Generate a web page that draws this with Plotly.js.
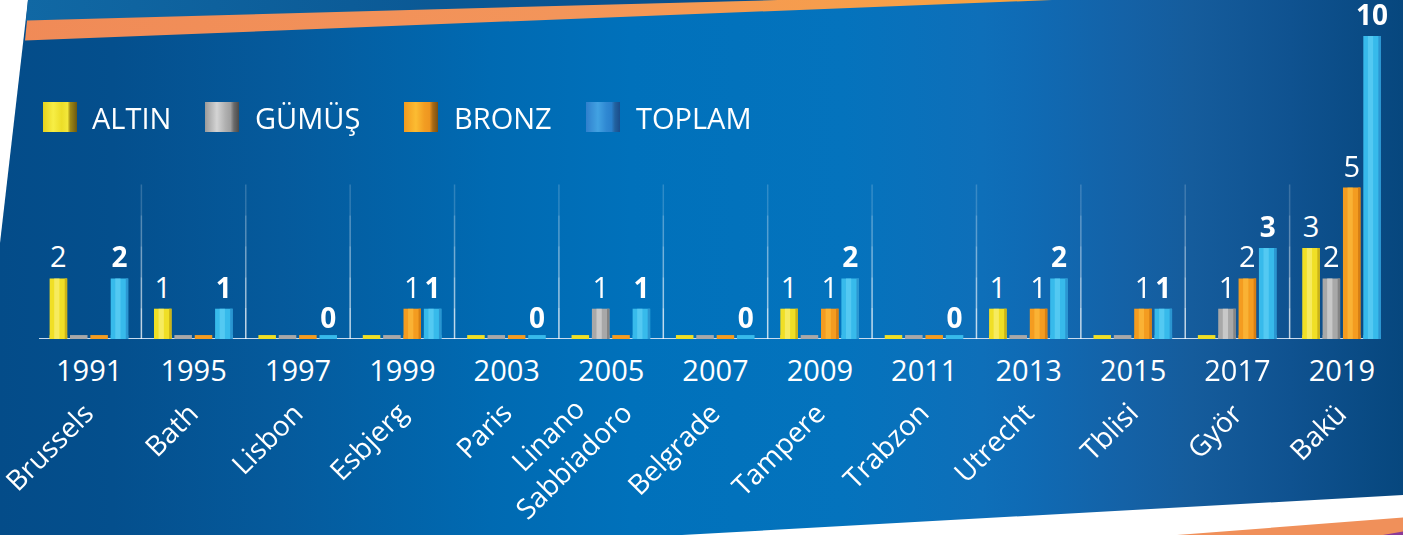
<!DOCTYPE html>
<html><head><meta charset="utf-8">
<script src="https://cdn.plot.ly/plotly-3.0.1.min.js"></script>
<style>
html,body{margin:0;padding:0;background:#fff;width:1403px;height:535px;overflow:hidden}
.layer{position:absolute;left:0;top:0;width:1403px;height:535px;}
#bgMain{background:linear-gradient(90deg,#044c89 0%,#044f8d 8%,#055a9c 20%,#006ab2 35%,#0071bb 45%,#0473bd 60%,#0e6fb9 70%,#0f6bb5 73%,#1462a7 80%,#155c9c 85%,#0f5290 92%,#07477e 100%);
 clip-path:polygon(28px 0,1403px 0,1403px 495px,682px 535px,0 535px,0 243px);}
#bgTop{background:linear-gradient(90deg,#1169a5 0%,#0c5c98 25%,#084f8c 50%,#0a4f8c 100%);
 clip-path:polygon(28px 0,790px 0,26px 21px);}
#stripeTop{background:linear-gradient(90deg,#f08a57 0%,#f3955a 40%,#f7a048 65%,#faa535 80%,#fba630 100%);
 clip-path:polygon(27px 20.5px,778px 0,1052px 0,25px 40.5px);}
#stripeBottom{background:#f0905a;clip-path:polygon(1177px 535px,1403px 517.5px,1403px 535px);}
#stripePurple{background:#8b3a98;clip-path:polygon(1383px 535px,1403px 531.5px,1403px 535px);}
#chart{position:absolute;left:0;top:0;width:1403px;height:535px;}
</style></head>
<body>
<div id="bgMain" class="layer"></div>
<div id="bgTop" class="layer"></div>
<div id="stripeTop" class="layer"></div>
<div id="stripeBottom" class="layer"></div>
<div id="stripePurple" class="layer"></div>
<div id="chart"></div>
<script>
// ---------- DATA ----------
const years  = ['1991','1995','1997','1999','2003','2005','2007','2009','2011','2013','2015','2017','2019'];
const cities = ['Brussels','Bath','Lisbon','Esbjerg','Paris','Linano<br>Sabbiadoro','Belgrade','Tampere','Trabzon','Utrecht','Tblisi','Györ','Bakü'];
const altin  = [2,1,0,0,0,0,0,1,0,1,0,0,3];
const gumus  = [0,0,0,0,0,1,0,0,0,0,0,1,2];
const bronz  = [0,0,0,1,0,0,0,1,0,1,1,2,5];
const toplam = [2,1,0,1,0,1,0,2,0,2,1,3,10];
const seriesNames = ['ALTIN','GÜMÜŞ','BRONZ','TOPLAM'];

// ---------- STYLE ----------
const W = 1403, H = 535, ML = 37, MR = 9, MT = 0, MB = 196;
const PW = W - ML - MR, PH = H - MT - MB;
const FONT = 'Open Sans, Noto Sans, sans-serif';
const BW = 0.168, PITCH = 0.195, OFF0 = -0.379, STUB = 0.13;
const styles = [
  {main:'#f0df26', hi:'#fbf386', edge:'#c7ae16', stops:[['0','#e6d21c'],['0.3','#f7ee45'],['0.55','#ecdd28'],['0.72','#f3e73a'],['0.8','#a08a14'],['1','#6a5812']]},
  {main:'#a8a8a8', hi:'#dedede', edge:'#808080', stops:[['0','#9a9a9a'],['0.35','#d4d4d4'],['0.6','#b0b0b0'],['0.75','#a0a0a0'],['0.85','#6a6a6a'],['1','#4a4a4a']]},
  {main:'#f49c20', hi:'#fdc243', edge:'#d47c14', stops:[['0','#f29a1e'],['0.35','#fcbc32'],['0.6','#f29d22'],['0.75','#ee9620'],['0.85','#a86a14'],['1','#7a5012']]},
  {main:'#37baeb', hi:'#66d4f7', edge:'#2b92cf', stops:[['0','#2f7fcc'],['0.35','#42a2e2'],['0.6','#2f88d2'],['0.75','#2a80cc'],['0.85','#22629f'],['1','#1a4c8c']]}
];
const values = [altin, gumus, bronz, toplam];

const traces = [];
values.forEach((vals, i) => {
  const st = styles[i];
  const off = OFF0 + i * PITCH;
  // small pedestal so that zero values remain visible as in the original
  traces.push({type:'bar', x: years, y: years.map(() => STUB), offset: off, width: BW,
    marker:{color: st.main, line:{width:0}}, hoverinfo:'skip', showlegend:false});
  traces.push({type:'bar', name: seriesNames[i], x: years, y: vals, offset: off, width: BW,
    marker:{color: st.main, line:{width:0}},
    text: vals.map(v => (i === 3 || v > 0) ? String(v) : ''),
    textposition:'outside', textangle:0, constraintext:'none', cliponaxis:false,
    textfont:{family: FONT, size: i === 3 ? 28 : 29, color:'#ffffff', weight: i === 3 ? 700 : 400},
    hovertemplate: seriesNames[i] + ' %{x}: %{y}<extra></extra>', showlegend:false});
  traces.push({type:'bar', x: years, y: vals, offset: off + BW*0.26, width: BW*0.30,
    marker:{color: st.hi, line:{width:0}}, opacity:0.6, hoverinfo:'skip', showlegend:false});
  traces.push({type:'bar', x: years, y: vals, offset: off + BW*0.86, width: BW*0.14,
    marker:{color: st.edge, line:{width:0}}, opacity:0.9, hoverinfo:'skip', showlegend:false});
});

const px2x = p => (p - ML) / PW;
const py2y = p => (H - MB - p) / PH;

const shapes = [];
// baseline
shapes.push({type:'line', xref:'paper', yref:'y', x0:px2x(39), x1:px2x(1381), y0:0, y1:0,
  line:{color:'#c9dbee', width:2}, layer:'below'});
// separators between groups (fading upward)
const fade = [0.75,0.6,0.45,0.32,0.18];
for (let k = 0; k < years.length - 1; k++) {
  fade.forEach((op, j) => {
    shapes.push({type:'line', xref:'x', yref:'y', x0:k+0.5, x1:k+0.5, y0:j*1.02, y1:(j+1)*1.02,
      line:{color:'rgba(255,255,255,'+op+')', width:1.5}, layer:'below'});
  });
}

// legend (swatches + labels)
const legX = [43, 205, 404, 586];
const legTextX = [90, 253, 452, 634];
const images = [], annotations = [];
seriesNames.forEach((n, i) => {
  const stops = styles[i].stops.map(s => `<stop offset='${s[0]}' stop-color='${s[1]}'/>`).join('');
  const svg = `<svg xmlns='http://www.w3.org/2000/svg' width='34' height='30'><defs><linearGradient id='g' x1='0' x2='1' y1='0' y2='0'>${stops}</linearGradient></defs><rect width='34' height='30' fill='url(#g)'/></svg>`;
  images.push({source:'data:image/svg+xml;charset=utf-8,' + encodeURIComponent(svg),
    xref:'paper', yref:'paper', x:px2x(legX[i]), y:py2y(102), sizex:34/PW, sizey:30/PH,
    xanchor:'left', yanchor:'top', sizing:'stretch', layer:'above'});
  annotations.push({text:n, xref:'paper', yref:'paper', x:px2x(legTextX[i]), y:py2y(117.5),
    xanchor:'left', yanchor:'middle', showarrow:false,
    font:{family:FONT, size:29, color:'#ffffff'}});
});
// city labels (x given as category index); extra lines shift the rotated box up-right
cities.forEach((c, i) => {
  const extra = c.split('<br>').length - 1;
  annotations.push({text:c, xref:'x', yref:'paper', x:i, xshift:15 + 16*extra, yshift:26*extra,
    y:py2y(391), xanchor:'right', yanchor:'top', textangle:-45, align:'center', showarrow:false,
    font:{family:FONT, size:28, color:'#ffffff'}});
});

const layout = {
  width: W, height: H,
  margin:{l:ML, r:MR, t:MT, b:MB, pad:0},
  paper_bgcolor:'rgba(0,0,0,0)', plot_bgcolor:'rgba(0,0,0,0)',
  barmode:'overlay', showlegend:false,
  font:{family:FONT, color:'#ffffff'},
  xaxis:{type:'category', categoryarray: years, range:[-0.5, years.length-0.5],
    showgrid:false, zeroline:false, showline:false, ticks:'', ticklabelstandoff:12,
    tickfont:{family:FONT, size:29, color:'#ffffff'}, fixedrange:true},
  yaxis:{range:[0, PH/30.3], showgrid:false, zeroline:false, showline:false, showticklabels:false, ticks:'', fixedrange:true},
  shapes, images, annotations
};
Plotly.newPlot('chart', traces, layout, {displayModeBar:false, staticPlot:true});
</script>
</body></html>
